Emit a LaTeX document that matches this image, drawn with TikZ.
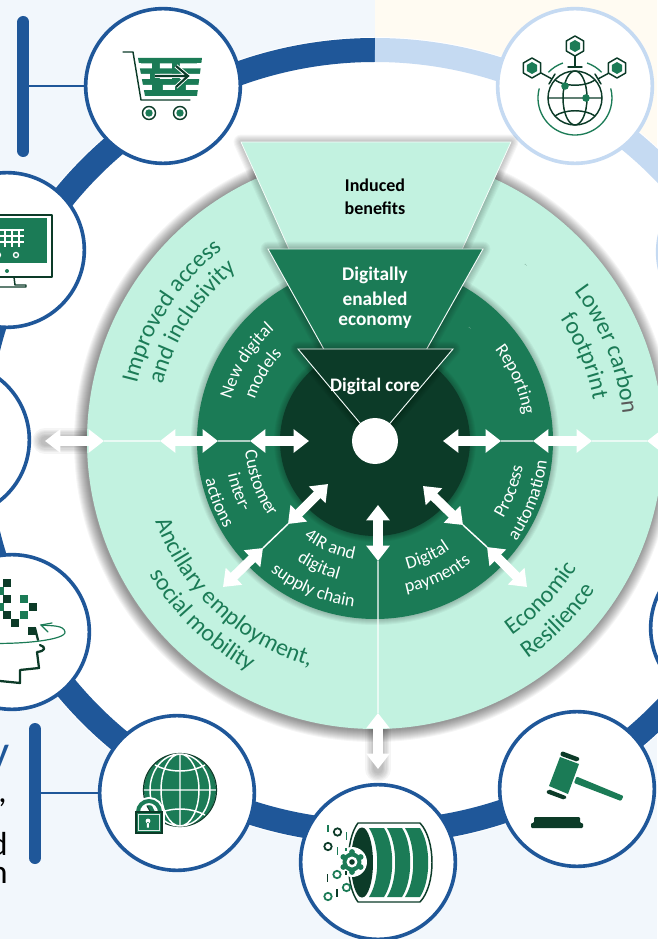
\documentclass[tikz,border=0pt]{standalone}
\usepackage{fontspec}
\setmainfont{Carlito}
\usetikzlibrary{arrows.meta,decorations.text}
\definecolor{bgblue}{HTML}{F2F7FC}
\definecolor{bgcream}{HTML}{FFFBF2}
\definecolor{ringdk}{HTML}{1F5799}
\definecolor{ringlt}{HTML}{C5DAF2}
\definecolor{lt}{HTML}{C2F2E0}
\definecolor{gr}{HTML}{1B7B56}
\definecolor{dk}{HTML}{0C3B28}
\tikzset{
  x=.75pt,y=.75pt,
  px/.style={shift={(-375,441)},yscale=-1},
  hub/.style={draw=ringdk,fill=white,line width=2.7pt},
  hublt/.style={draw=ringlt,fill=white,line width=2.7pt},
  dbl/.style={draw=white,line width=7pt,{Triangle[width=17pt,length=11.5pt]}-{Triangle[width=17pt,length=11.5pt]}},
  thin line/.style={draw=white,line width=1.1pt},
  ico/.style={draw=dk,line width=1.1pt,line cap=round,line join=round},
  bar/.style={draw=ringdk,line width=9pt,line cap=round},
  barlink/.style={draw=ringdk,line width=.9pt},
  band/.style={line width=18pt},
}
\newcommand\overarc[5]{% r, centre, size, colour, text : letters' tops outward
  \pgfmathsetmacro\sa{#2+70}\pgfmathsetmacro\ea{#2-70}
  \path[decorate,decoration={text along path,text align=center,text color=#4,
    text={|\fontsize{#3}{#3}\selectfont|#5}}] (\sa:#1) arc[start angle=\sa,end angle=\ea,radius=#1];}
\newcommand\underarc[5]{% r, centre, size, colour, text : letters' tops inward
  \pgfmathsetmacro\sa{#2-70}\pgfmathsetmacro\ea{#2+70}
  \path[decorate,decoration={text along path,text align=center,text color=#4,
    text={|\fontsize{#3}{#3}\selectfont|#5}}] (\sa:#1) arc[start angle=\sa,end angle=\ea,radius=#1];}
\newcommand\softring[3]{% centre, radius, layers
  \foreach \i in {1,...,#3}{\fill[black,opacity=.04] (#1) circle ({#2+\i});}}
\newcommand\softtri[1]{%
  \foreach \i in {1,...,7}{\draw[black,opacity=.035,line width=\i*1.6,line join=round] #1;}}
\newcommand\softarrow[2]{%
  \foreach \i in {1,...,7}{\draw[black,opacity=.04,line width=5pt+\i*2pt,line cap=round] (#1) -- (#2);}}
\newcommand\hexa[2]{%
  \draw[ico,shift={(#1,#2)},fill=white] (90:10)--(30:10)--(-30:10)--(-90:10)--(-150:10)--(150:10)--cycle;
  \fill[gr,shift={(#1,#2)}] (90:6)--(30:6)--(-30:6)--(-90:6)--(-150:6)--(150:6)--cycle;}
\begin{document}
\begin{tikzpicture}
\useasboundingbox (-375,-498) rectangle (282,441);
% backgrounds
\fill[bgblue] (-375,-498) rectangle (282,441);
\fill[bgcream] (0,0) rectangle (282,441);
\fill[white] (0,0) ellipse (411 and 404);
% ring
\draw[ringdk,band] (0,391) arc[start angle=90,end angle=270,x radius=398,y radius=391];
\draw[ringdk,band] (0,-391) arc[start angle=270,end angle=360,x radius=398,y radius=391];
\draw[ringlt,band] (0,391) arc[start angle=90,end angle=0,x radius=398,y radius=391];

\begin{scope}[px]
% side bars
\coordinate (bar1t) at (23.5,22); \coordinate (bar1b) at (23.5,151);
\coordinate (bar2t) at (35,729); \coordinate (bar2b) at (35,858);
\draw[bar] (bar1t) -- (bar1b);
\draw[bar] (bar2t) -- (bar2b);
% hubs
\node[circle,hub,minimum size=116pt,inner sep=0] (hCart) at (163,86) {};
\node[circle,hublt,minimum size=116pt,inner sep=0] (hNet) at (575,86) {};
\node[circle,hub,minimum size=116pt,inner sep=0] (hMon) at (7,250) {};
\node[circle,hub,minimum size=116pt,inner sep=0] (hLeft) at (-48,440) {};
\node[circle,hub,minimum size=116pt,inner sep=0] (hHead) at (12,632) {};
\node[circle,hub,minimum size=116pt,inner sep=0] (hLock) at (177,793) {};
\node[circle,hub,minimum size=116pt,inner sep=0] (hDrum) at (378,862) {};
\node[circle,hub,minimum size=116pt,inner sep=0] (hGavel) at (577,789) {};
\node[circle,hublt,minimum size=116pt,inner sep=0] (hR1) at (735,252) {};
\node[circle,hub,minimum size=116pt,inner sep=0] (hR2) at (728,628) {};
\draw[barlink] (hCart.west) -- (bar1t|-hCart.west);
\draw[barlink] (hLock.west) -- (bar2t|-hLock.west);
% left text fragments
\node[anchor=base east,inner sep=0,font=\fontsize{35}{35}\selectfont,text=ringdk] (tY) at (9.5,767) {y};
\node[anchor=base east,inner sep=0,font=\fontsize{25}{25}\selectfont] (tC) at (7,802) {,};
\node[anchor=base east,inner sep=0,font=\fontsize{25}{25}\selectfont] (tD) at (8,855) {d};
\node[anchor=base east,inner sep=0,font=\fontsize{25}{25}\selectfont] (tN) at (8,883) {n};

% ---- cart icon
\fill[gr] (138,58)--(202,58)--(197,96)--(145,96)--cycle;
\foreach \y/\a/\b/\c/\d/\e/\f in {63.5/139/152/160/172/180/202, 74/139/150/160/172/180/202, 85/141/152/163/175/186/202}{
  \fill[white] (\a,\y) rectangle (\b,\y+5) (\c,\y) rectangle (\d,\y+5) (\e,\y) rectangle (\f,\y+5);}
\foreach \y in {63.5,74,85}{\fill[white] (136,\y) rectangle (141,\y+5);\fill[white] (197,\y) rectangle (204,\y+5);}
\draw[white,line width=3pt] (155,76)--(186,76) (176,66)--(188,76)--(176,87);
\draw[dk,line width=1.6pt] (155,76)--(186,76) (176,66)--(188,76)--(176,87);
\draw[ico] (123,52)--(133,52)--(141,100)--(190,100);
\foreach \x in {149,180}{\draw[ico,fill=white] (\x,113) circle (6.5);\fill[gr] (\x,113) circle (3.7);}

% ---- network globe icon
\draw[gr,line width=1pt] (575,98) ++(195:37) arc[start angle=195,end angle=-15,radius=37];
\draw[gr,line width=1pt] (575,98) ++(224:37) arc[start angle=224,end angle=251,radius=37];
\draw[gr,line width=1pt] (575,98) ++(289:37) arc[start angle=289,end angle=316,radius=37];
\draw[ico] (575,98) circle (27);
\draw[ico] (575,98) ellipse (12 and 27) (548,98)--(602,98);
\draw[ico] (555,80) .. controls (565,87) and (585,87) .. (595,80);
\draw[ico] (555,116) .. controls (565,109) and (585,109) .. (595,116);
\draw[ico] (575,54)--(575,66) (568,67)--(582,67);
\draw[ico] (541,73)--(552,79) (549,84)--(555,74);
\draw[ico] (609,73)--(598,79) (601,84)--(595,74);
\hexa{575}{46}\hexa{532}{68}\hexa{617}{68}
\fill[gr] (565,86) circle (3.8) (586,98) circle (3.8);

% ---- monitor icon
\draw[ico,fill=white] (-30,215) rectangle (52,277);
\fill[gr] (-30,218) rectangle (47,263);
\foreach \y in {230,236,242}{\draw[white,line width=1.6pt] (-20,\y)--(24-\y*.02+4.6,\y);}
\foreach \x in {5,12,19}{\draw[white,line width=1.2pt] (\x,229)--(\x,247);}
\draw[white,line width=1pt] (16,255) circle (2.5) (-2,255) circle (2.5);
\fill[gr] (7,271) circle (2);
\draw[ico] (14,277)--(15,285)--(26,285)--(26,287)--(-10,287);
\draw[ico] (-2,277)--(-2,285);

% ---- head icon
\foreach \x/\y in {7/583,7/599,7/615,15/623,32/631,33/607}{\fill[dk] (\x-4.2,\y-4.2) rectangle (\x+4.2,\y+4.2);}
\foreach \x/\y in {24/599,24/615,0/591,0/607}{\fill[gr] (\x-4.2,\y-4.2) rectangle (\x+4.2,\y+4.2);}
\draw[dk,line width=1.7pt,line join=round,line cap=round] (35,628)--(38,640) (40,645) .. controls (46,647) and (46,651) .. (37,652) -- (39,668)--(20,670)--(20,683)--(0,681);
\draw[gr,line width=.9pt] (-20,643) .. controls (20,645) and (66,640) .. (65,632) .. controls (64,625) and (52,626) .. (41,625);
\draw[gr,line width=.9pt,line cap=round] (52,623)--(41,625)--(48,632);

% ---- lock globe icon
\fill[gr] (180,790) circle (36);
\draw[dk,line width=.9pt] (180,790) circle (36.5);
\draw[white,line width=1.1pt] (144,790)--(216,790) (180,754)--(180,826) (180,790) ellipse (19 and 36) (180,790) ellipse (30 and 36);
\draw[white,line width=1.1pt] (155,765) .. controls (170,773) and (190,773) .. (205,765);
\draw[white,line width=1.1pt] (155,815) .. controls (170,807) and (190,807) .. (205,815);
\draw[white,line width=6pt] (138,812) arc[start angle=180,end angle=360,radius=11];
\draw[gr,line width=3pt] (138,812) arc[start angle=180,end angle=360,radius=11];
\fill[white] (133,811) rectangle (165,836);
\draw[dk,line width=.8pt,fill=gr] (136,812) rectangle (162,833);
\draw[white!85!gr,line width=.8pt] (138.5,814.5) rectangle (159.5,830.5);
\fill[white] (148,821) circle (2.4) (147,822) rectangle (149,827.5);

% ---- drum icon
\draw[ico,fill=white] (358,823)--(420,823) .. controls (436,840) and (436,885) .. (420,902) -- (358,902) .. controls (345,885) and (345,840) .. (358,823) -- cycle;
\foreach \a/\b in {369/384,387/402,405/420}{
  \fill[gr] (\a,828)--(\b,828) .. controls (\b+11,845) and (\b+11,880) .. (\b,897) -- (\a,897) .. controls (\a+11,880) and (\a+11,845) .. (\a,828) -- cycle;}
\fill[dk] (362,862.5) ellipse (11 and 35);
\fill[white] (352,862) circle (15);
\fill[gr] (352,862) circle (9.5);
\foreach \a in {0,60,...,300}{\fill[gr,shift={(352,862)}] (\a+30:10) circle (2.9);}
\fill[white] (352,862) circle (5.5);
\fill[dk] (352,862) circle (2.8);
\draw[dk,line width=1.3pt] (337.5,832) circle (3.7) (328,846.5) circle (3.7);
\draw[gr,line width=1.3pt] (337,874.5) circle (3.7) (346.5,887.5) circle (3.7) (328,896.5) circle (3.7);
\draw[gr,line width=1.3pt] (328,825)--(328,832) (346.5,832)--(346.5,840) (337.5,847)--(337.5,855) (346,848)--(346,851);
\draw[dk,line width=1.3pt] (327.5,874)--(327.5,882) (337,889)--(337,897);
\draw[dk,line width=1.3pt] (346,871)--(346,875) ;

% ---- gavel icon
\fill[gr,rounded corners=.8pt] (576.5,776.5)--(623.5,796)--(621,801)--(574,783)--cycle;
\fill[gr] (560,757)--(579,764)--(568,794)--(549,786)--cycle;
\fill[dk,rounded corners=1.5pt] (561.5,751)--(580,758)--(578,762)--(560,755.5)--cycle;
\fill[dk,rounded corners=1.5pt] (548,789)--(567,796.5)--(565,800)--(546,793)--cycle;
\fill[dk,rounded corners=.8pt] (534,817)--(580,817)--(580,823)--(583,823)--(583,828)--(531,828)--(531,823)--(534,823)--cycle;

% arrow end points
\coordinate (apex) at (375,441);
\coordinate (L1a) at (45,441);\coordinate (L1b) at (104,441);
\coordinate (L2a) at (160,441);\coordinate (L2b) at (218,441);
\coordinate (L3a) at (250,441);\coordinate (L3b) at (309,441);
\coordinate (R1a) at (443,441);\coordinate (R1b) at (501,441);
\coordinate (R2a) at (533,441);\coordinate (R2b) at (592,441);
\coordinate (R3a) at (647,441);\coordinate (R3b) at (705,441);
\coordinate (B1a) at (378,505);\coordinate (B1b) at (378,561);
\coordinate (B2a) at (378,713);\coordinate (B2b) at (378,769);
\coordinate (DLa) at (328,484);\coordinate (DLb) at (288,524);
\coordinate (DLc) at (263,548);\coordinate (DLd) at (223,587);
\coordinate (DRa) at (423,486);\coordinate (DRb) at (463,525);
\coordinate (DRc) at (487,547);\coordinate (DRd) at (527,587);
\softarrow{L1a}{L1b}
\softarrow{B2a}{B2b}
\end{scope}

% ---- discs
\softring{-1,-1}{288}{12}
\fill[lt] (0,0) circle (288);
\softring{0,0}{178}{6}
\fill[gr] (0,0) circle (178);
\softring{0,0}{95}{6}
\fill[dk] (0,0) circle (95);

\begin{scope}[px]
% funnel wedges
\softtri{(241,142)--(511,142)--(375,441)--cycle}
\draw[fill=lt,draw=white!85!lt,line width=.6pt] (241,142)--(511,142)--(apex)--cycle;
\softtri{(268,249)--(483,249)--(375,441)--cycle}
\draw[fill=gr,draw=white!80!lt,line width=.7pt] (268,249)--(483,249)--(apex)--cycle;
\softtri{(298,349)--(453,349)--(375,441)--cycle}
\draw[fill=dk,draw=white!80!lt,line width=.7pt] (298,349)--(453,349)--(apex)--cycle;
\node[circle,fill=white,minimum size=34.5pt,inner sep=0] (core) at (apex) {};

\draw[thin line] (L1b)--(L2a) (L2b)--(L3a) (R1b)--(R2a) (R2b)--(R3a) (B1b)--(B2a) (DLb)--(DLc) (DRb)--(DRc);
\foreach \a/\b in {L1a/L1b,L2a/L2b,L3a/L3b,R1a/R1b,R2a/R2b,R3a/R3b,B1a/B1b,B2a/B2b,DLa/DLb,DLc/DLd,DRa/DRb,DRc/DRd}{
  \draw[dbl] (\a) -- (\b);}
% straight labels
\node[font=\bfseries\fontsize{13.5}{13.5}\selectfont,text=black,inner sep=0] (t1) at (375,185) {Induced};
\node[font=\bfseries\fontsize{13.5}{13.5}\selectfont,text=black,inner sep=0] (t2) at (375,208) {benefits};
\node[font=\bfseries\fontsize{14.5}{14.5}\selectfont,text=white,inner sep=0] (t3) at (375,275) {Digitally};
\node[font=\bfseries\fontsize{14.5}{14.5}\selectfont,text=white,inner sep=0] (t4) at (375,298.5) {enabled};
\node[font=\bfseries\fontsize{14.5}{14.5}\selectfont,text=white,inner sep=0] (t5) at (375,322) {economy};
\node[font=\bfseries\fontsize{14.3}{14.3}\selectfont,text=white,inner sep=0] (t6) at (375,386) {Digital core};
\node[font=\fontsize{3}{3}\selectfont,text=dk,inner sep=0,rotate=-40] (d1) at (526,265) {...};
\node[font=\fontsize{3}{3}\selectfont,text=white,inner sep=0,rotate=-40] (d2) at (470,328) {...};
\end{scope}

% curved labels
\overarc{245}{147.5}{18}{gr}{Improved access}
\overarc{220}{147}{18}{gr}{and inclusivity}
\overarc{249}{21.5}{18}{gr}{Lower carbo|\fontsize{18}{18}\selectfont\color{black!65}|n}
\overarc{222}{22}{18}{gr}{footprint}
\underarc{234}{227}{18}{gr}{Ancillary employment,}
\underarc{262}{226}{18}{gr}{social mobility}
\underarc{238}{-43.5}{18}{gr}{Economic}
\underarc{266}{-44.5}{18}{gr}{Resilience}
\overarc{150}{148}{13.6}{white}{New digital}
\overarc{127}{149}{13.6}{white}{models}
\overarc{151}{23.7}{13.6}{white}{Reporting}
\underarc{130}{200}{13.6}{white}{Customer}
\underarc{151}{200.7}{13.6}{white}{inter-}
\underarc{174}{201.5}{13.6}{white}{actions}
\underarc{120}{246.7}{13.6}{white}{4IR and}
\underarc{143}{246}{13.6}{white}{digital}
\underarc{167}{247}{13.6}{white}{supply chain}
\underarc{132}{-65.5}{13.6}{white}{Digital}
\underarc{155}{-65}{13.6}{white}{payments}
\underarc{150}{-20.5}{13.6}{white}{Process}
\underarc{173}{-21}{13.6}{white}{automation}
\end{tikzpicture}
\end{document}
